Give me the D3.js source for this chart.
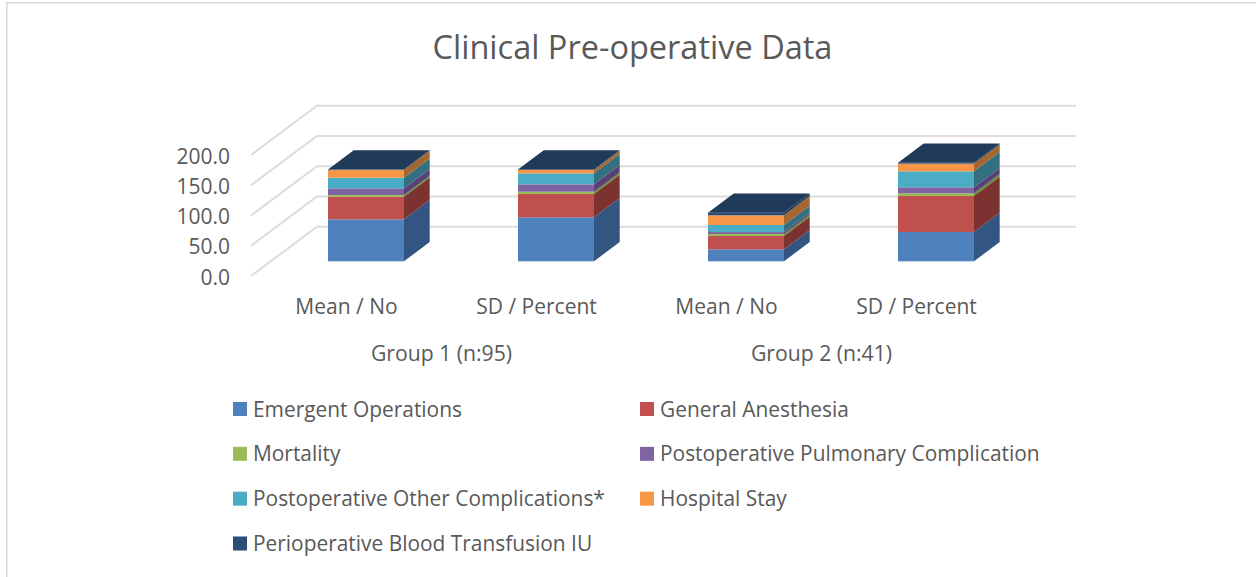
<!DOCTYPE html>
<html>
<head>
<meta charset="utf-8">
<script src="https://cdn.jsdelivr.net/npm/d3@7"></script>
<style>
  html, body { margin: 0; padding: 0; background: #fff; overflow: hidden; }
  svg { display: block; }
  text { font-family: "Open Sans", sans-serif; fill: #595959; }
</style>
</head>
<body>
<div id="mainDiv"></div>
<script>
const chartTitle = "Clinical Pre-operative Data";
const categories = ["Mean / No", "SD / Percent", "Mean / No", "SD / Percent"];
const groups = ["Group 1 (n:95)", "Group 2 (n:41)"];
const yTicks = [0, 50, 100, 150, 200];

const seriesNames = [
  "Emergent Operations",
  "General Anesthesia",
  "Mortality",
  "Postoperative Pulmonary Complication",
  "Postoperative Other Complications*",
  "Hospital Stay",
  "Perioperative Blood Transfusion IU",
];

const emergentOperations = [69.4, 72.7, 19.8, 48.4];
const generalAnesthesia = [37.4, 38.5, 22.0, 59.5];
const mortality = [2.8, 3.8, 3.3, 4.5];
const pulmonaryComplication = [11.0, 12.2, 3.3, 9.9];
const otherComplications = [17.5, 18.2, 11.6, 26.4];
const hospitalStay = [12.7, 5.5, 16.0, 12.6];
const bloodTransfusion = [0.8, 0.8, 4.3, 1.6];

const seriesValues = [
  emergentOperations,
  generalAnesthesia,
  mortality,
  pulmonaryComplication,
  otherComplications,
  hospitalStay,
  bloodTransfusion,
];

const frontColors = ["#4f81bd", "#c0504d", "#9bbb59", "#8064a2", "#4bacc6", "#f79646", "#2c4d75"];
const sideColors = ["#325581", "#7b3230", "#6b8a38", "#5a4078", "#33707f", "#a5662f", "#1f3a5a"];
const topColor = "#203a5a";

const chartSize = { width: 1256, height: 577 };

// 3D look: back wall is shifted from the front plane, bars sit part way in
const wallDepth = { x: 66, y: -49.3 };
const barDepth = { x: 25.7, y: -19.3 };
const barInset = { x: 19, y: -14.7 };

const svg = d3.select("#mainDiv")
  .append("svg")
  .attr("width", chartSize.width)
  .attr("height", chartSize.height);

svg.append("rect")
  .attr("width", chartSize.width)
  .attr("height", chartSize.height)
  .attr("fill", "#fff");

// frame, only the top and left sides are in the picture
svg.append("path")
  .attr("d", "M6.8,577V2.7H1256")
  .attr("fill", "none")
  .attr("stroke", "#d9d9d9")
  .attr("stroke-width", 1.5);

svg.append("text")
  .attr("x", 632.5)
  .attr("y", 58.5)
  .attr("text-anchor", "middle")
  .attr("font-size", 32.5)
  .text(chartTitle);

const x = d3.scaleBand()
  .domain(d3.range(categories.length))
  .range([252, 1012])
  .paddingInner(0.6)
  .paddingOuter(0.3);

const y = d3.scaleLinear()
  .domain([0, 200])
  .range([276, 155]);

// gridlines run up the side wall and along the back wall
svg.append("g")
  .selectAll("path")
  .data(yTicks)
  .join("path")
  .attr("d", d => {
    const path = d3.path();
    path.moveTo(251, y(d));
    path.lineTo(251 + wallDepth.x, y(d) + wallDepth.y);
    path.lineTo(1076, y(d) + wallDepth.y);
    return path.toString();
  })
  .attr("fill", "none")
  .attr("stroke", "#dcdcdc")
  .attr("stroke-width", 2);

const yAxis = d3.axisLeft(y)
  .tickValues(yTicks)
  .tickFormat(d3.format(".1f"))
  .tickSize(0)
  .tickPadding(0);

svg.append("g")
  .attr("transform", "translate(230,1.5)")
  .call(yAxis)
  .call(g => g.select(".domain").remove())
  .call(g => g.selectAll("text").attr("font-size", 21).attr("font-family", null));

const xAxis = d3.axisBottom(x)
  .tickFormat(i => categories[i])
  .tickSize(0)
  .tickPadding(0);

svg.append("g")
  .attr("transform", "translate(-0.5,314)")
  .call(xAxis)
  .call(g => g.select(".domain").remove())
  .call(g => g.selectAll("text").attr("dy", 0).attr("font-size", 21).attr("font-family", null));

svg.append("g")
  .selectAll("text")
  .data(groups)
  .join("text")
  .attr("x", (d, i) => (x(i * 2) + x(i * 2 + 1) + x.bandwidth()) / 2 - 0.5)
  .attr("y", 361)
  .attr("text-anchor", "middle")
  .attr("font-size", 21.2)
  .text(d => d);

// stacks
const rows = categories.map((c, i) => {
  const row = { index: i };
  seriesNames.forEach((name, s) => { row[name] = seriesValues[s][i]; });
  return row;
});
const stacked = d3.stack().keys(seriesNames)(rows);

const barLeft = i => x(i) + barInset.x;
const barRight = i => barLeft(i) + x.bandwidth();
const barY = v => y(v) + barInset.y;

const bars = svg.append("g")
  .selectAll("g")
  .data(categories)
  .join("g");

bars.each(function (category, i) {
  const bar = d3.select(this);

  stacked.forEach((layer, s) => {
    const [v0, v1] = layer[i];

    bar.append("polygon")
      .attr("points", [
        [barRight(i), barY(v0)],
        [barRight(i) + barDepth.x, barY(v0) + barDepth.y],
        [barRight(i) + barDepth.x, barY(v1) + barDepth.y],
        [barRight(i), barY(v1)],
      ].join(" "))
      .attr("fill", sideColors[s]);

    bar.append("rect")
      .attr("x", barLeft(i))
      .attr("y", barY(v1))
      .attr("width", x.bandwidth())
      .attr("height", barY(v0) - barY(v1))
      .attr("fill", frontColors[s]);
  });

  const total = stacked[stacked.length - 1][i][1];
  bar.append("polygon")
    .attr("points", [
      [barLeft(i), barY(total)],
      [barLeft(i) + barDepth.x, barY(total) + barDepth.y],
      [barRight(i) + barDepth.x, barY(total) + barDepth.y],
      [barRight(i), barY(total)],
    ].join(" "))
    .attr("fill", topColor);
});

// legend, two columns filled row by row
const legendColumns = [233, 640];
const legendRow = d3.scalePoint()
  .domain(d3.range(4))
  .range([409, 543.5]);

const legendItems = svg.append("g")
  .selectAll("g")
  .data(seriesNames)
  .join("g")
  .attr("transform", (d, i) => `translate(${legendColumns[i % 2]},${legendRow(Math.floor(i / 2))})`);

legendItems.append("rect")
  .attr("y", -7)
  .attr("width", 14)
  .attr("height", 14)
  .attr("fill", (d, i) => frontColors[i]);

legendItems.append("text")
  .attr("x", 20)
  .attr("y", 7.5)
  .attr("font-size", 20.9)
  .text(d => d);
</script>
</body>
</html>
